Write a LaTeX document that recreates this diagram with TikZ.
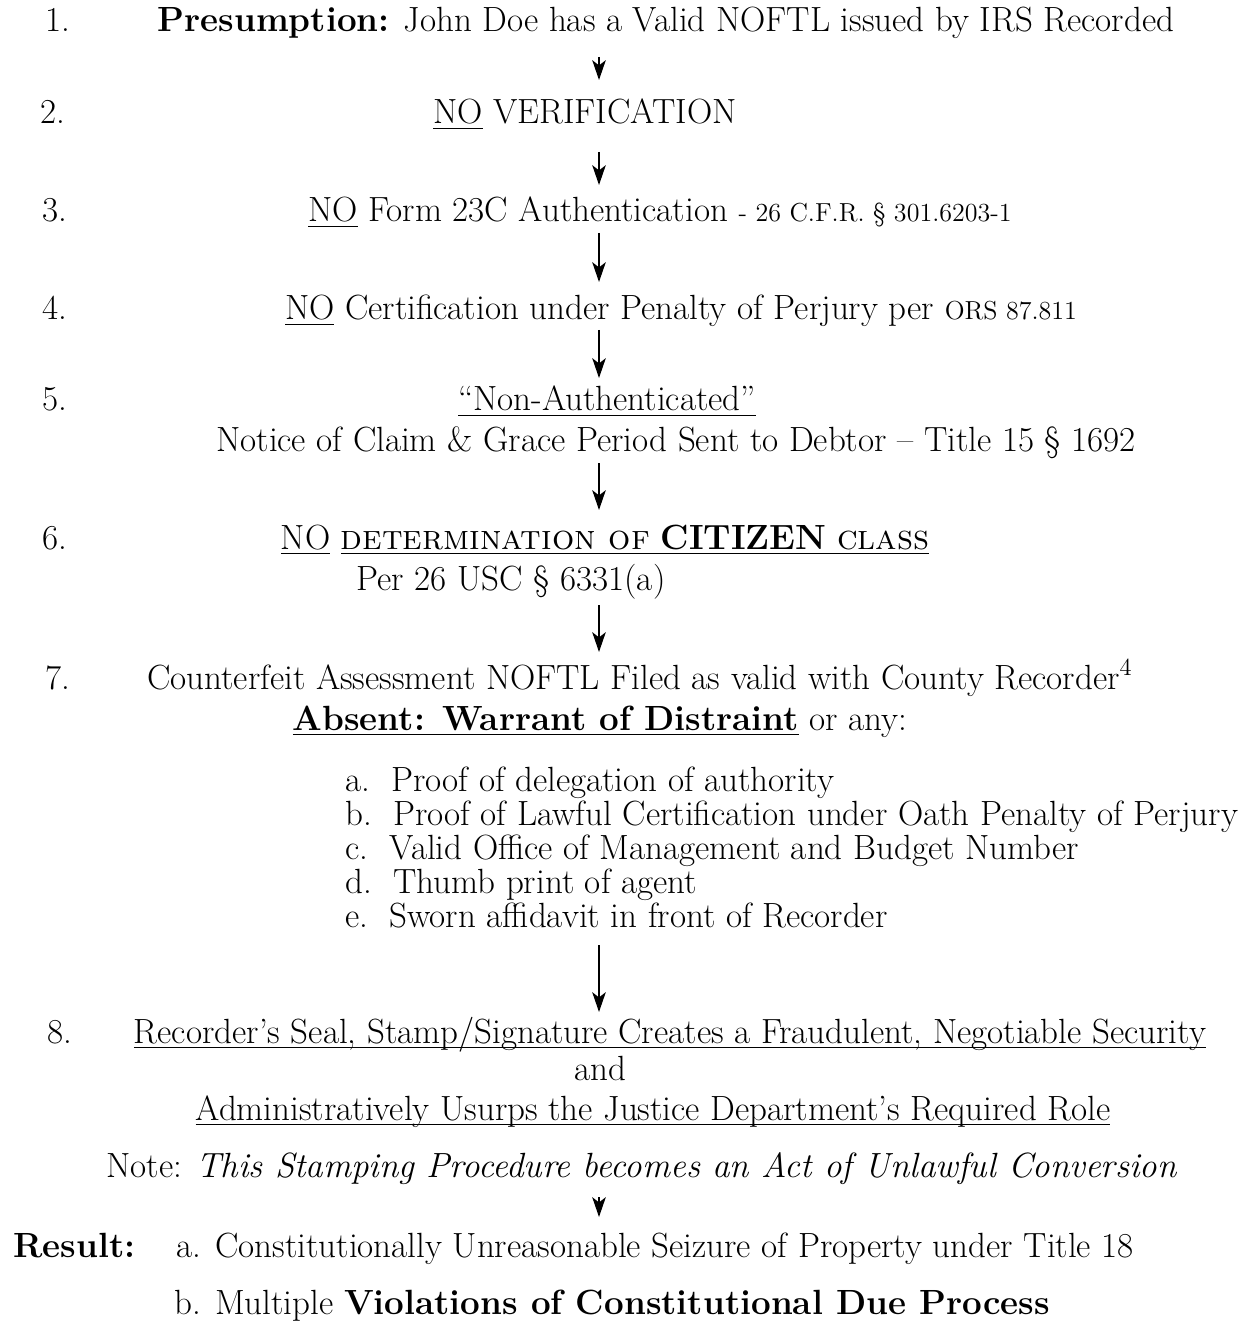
\documentclass[tikz,border=0pt]{standalone}
\usepackage{fontspec}
\usetikzlibrary{arrows.meta}
\newcommand{\reftext}[1]{{\fontsize{12.5}{15}\selectfont #1}}
\newcommand{\undl}[1]{\setbox0\hbox{#1}\rlap{\rule[-2.6pt]{\wd0}{0.9pt}}\box0\relax}

\begin{document}
\begin{tikzpicture}[x=0.48pt, y=-0.48pt,
    txt/.style={inner sep=0pt, anchor=base, font=\fontsize{16.8}{20}\selectfont},
    num/.style={txt, anchor=base west},
    flow/.style={line width=0.7pt, -{Stealth[length=9.5pt, width=6.5pt, inset=2.5pt]}}]
  \useasboundingbox (0,0) rectangle (1249,1322);

  \node[num] (n1) at (45,32) {1.};
  \node[txt] (t1) at (666,32) {\textbf{Presumption:} John Doe has a Valid NOFTL issued by IRS Recorded};
  \node[num] (n2) at (40,124) {2.};
  \node[txt] (t2) at (585,124) {\undl{NO} VERIFICATION};
  \node[num] (n3) at (42,222) {3.};
  \node[txt] (t3) at (660,222) {\undl{NO} Form 23C Authentication \reftext{- 26 C.F.R. \S\ 301.6203-1}};
  \node[num] (n4) at (42,320) {4.};
  \node[txt] (t4) at (681,320) {\undl{NO} Certification under Penalty of Perjury per \reftext{ORS 87.811}};
  \node[num] (n5) at (42,411) {5.};
  \node[txt] (t5) at (607,411) {\undl{``Non-Authenticated''}};
  \node[txt] (t5b) at (676,452) {Notice of Claim \& Grace Period Sent to Debtor -- Title 15 \S\ 1692};
  \node[num] (n6) at (42,549) {6.};
  \node[txt] (t6) at (605,549) {\undl{NO} \undl{\textsc{determination of} \textbf{CITIZEN} \textsc{class}}};
  \node[txt] (t6b) at (511,590) {Per 26 USC \S\ 6331(a)};
  \node[num] (n7) at (45,689) {7.};
  \node[txt] (t7) at (640,689) {Counterfeit Assessment NOFTL Filed as valid with County Recorder\textsuperscript{4}};
  \node[txt] (t7b) at (600,730) {\undl{\textbf{Absent: Warrant of Distraint}} or any:};

  \foreach \k/\y/\s in {a/791/Proof of delegation of authority,
      b/825/Proof of Lawful Certification under Oath Penalty of Perjury,
      c/859/Valid Office of Management and Budget Number,
      d/893/Thumb print of agent,
      e/927/Sworn affidavit in front of Recorder}
    \node[num] (item\k) at (345,\y) {\k.\ \ \s};

  \node[num] (n8) at (47,1043) {8.};
  \node[txt] (t8) at (670,1043) {\undl{Recorder's Seal, Stamp/Signature Creates a Fraudulent, Negotiable Security}};
  \node[txt] (and8) at (600,1080) {and};
  \node[txt] (t8b) at (653,1120) {\undl{Administratively Usurps the Justice Department's Required Role}};
  \node[txt] (note) at (642,1177) {Note: \textit{This Stamping Procedure becomes an Act of Unlawful Conversion}};
  \node[num] (res) at (13,1257) {\textbf{Result:}};
  \node[num] (resa) at (176,1257) {a. Constitutionally Unreasonable Seizure of Property under Title 18};
  \node[num] (resb) at (174,1314) {b. Multiple \textbf{Violations of Constitutional Due Process}};

  \foreach \n/\a/\b in {1/57/80, 2/152/185, 3/233/282, 4/330/378, 5/463/510,
      6/605/652, 7/945/1012, 8/1197/1217} {
    \coordinate (top\n) at (599,\a);
    \coordinate (tip\n) at (599,\b);
    \draw[flow] (top\n) -- (tip\n);
  }
\end{tikzpicture}
\end{document}
